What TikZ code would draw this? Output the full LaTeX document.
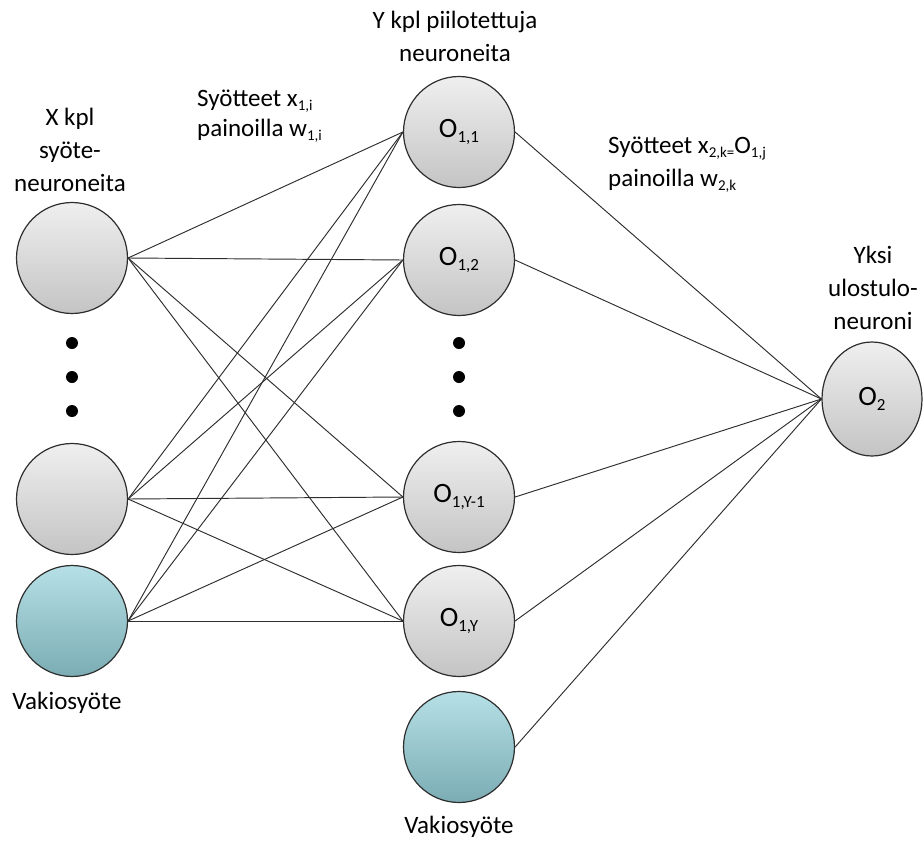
\documentclass[tikz,border=0pt]{standalone}
\usepackage{fontspec}
\setmainfont{Carlito}
\usetikzlibrary{shapes.geometric}
\newcommand{\sbs}[1]{\raisebox{-0.35ex}{\fontsize{15}{15}\selectfont #1}}
\newcommand{\nsbs}[1]{\raisebox{-0.35ex}{\fontsize{17}{17}\selectfont #1}}
\definecolor{graytop}{HTML}{EFEFEF}
\definecolor{graybot}{HTML}{C4C4C4}
\definecolor{tealtop}{HTML}{B6E0E6}
\definecolor{tealbot}{HTML}{7BACB4}
\definecolor{bordc}{HTML}{2E2E2E}
\definecolor{edgec}{HTML}{2E2E2E}
\tikzset{
  neuron/.style={circle, draw=bordc, line width=1.2pt, minimum size=111pt, inner sep=0pt,
    top color=graytop, bottom color=graybot, font=\fontsize{28}{30}\selectfont},
  bias/.style={neuron, top color=tealtop, bottom color=tealbot},
  conn/.style={draw=edgec, line width=0.95pt},
  lbl/.style={font=\fontsize{25}{33}\selectfont, align=center, inner sep=0pt},
  dotn/.style={circle, fill=black, minimum size=12pt, inner sep=0pt}
}
\begin{document}
\begin{tikzpicture}[x=1pt,y=-1pt]
\useasboundingbox (0,0) rectangle (924,841);
% input layer
\node[neuron] (in1) at (72,258) {};
\node[neuron] (in2) at (72,499) {};
\node[bias] (inv) at (72,621) {};
% hidden layer
\node[neuron] (h1) at (459,132) {O\nsbs{1,1}};
\node[neuron] (h2) at (459,260) {O\nsbs{1,2}};
\node[neuron] (hy1) at (459,497) {O\nsbs{1,Y-1}};
\node[neuron] (hy) at (459,621) {O\nsbs{1,Y}};
\node[bias] (hv) at (459,747) {};
% output
\node[neuron, ellipse, minimum width=100pt, minimum height=114pt] (o2) at (872,399) {O\nsbs{2}};
% dots
\node[dotn] (dl1) at (72,343) {};
\node[dotn] (dl2) at (72,377) {};
\node[dotn] (dl3) at (72,411) {};
\node[dotn] (dm1) at (459,343) {};
\node[dotn] (dm2) at (459,377) {};
\node[dotn] (dm3) at (459,411) {};
% connections input -> hidden
\foreach \s in {in1,in2,inv}
  \foreach \t in {h1,h2,hy1,hy}
    \draw[conn] (\s.east) -- (\t.west);
% hidden -> output
\foreach \s in {h1,h2,hy1,hy,hv}
  \draw[conn] (\s.east) -- (o2.west);
% labels
\node[lbl] (tx) at (70,150) {X kpl\\syöte-\\neuroneita};
\node[lbl, align=left, anchor=west, font=\fontsize{25}{30}\selectfont] (tw1) at (197,116) {Syötteet x\sbs{1,i}\\painoilla w\sbs{1,i}};
\node[lbl] (ty) at (455,36) {Y kpl piilotettuja\\neuroneita};
\node[lbl, align=left, anchor=west] (tw2) at (608,165) {Syötteet x\sbs{2,k=}O\sbs{1,j}\\painoilla w\sbs{2,k}};
\node[lbl] (tyk) at (873,288) {Yksi\\ulostulo-\\neuroni};
\node[lbl] (tv1) at (67,703) {Vakiosyöte};
\node[lbl] (tv2) at (459,827) {Vakiosyöte};
\end{tikzpicture}
\end{document}
